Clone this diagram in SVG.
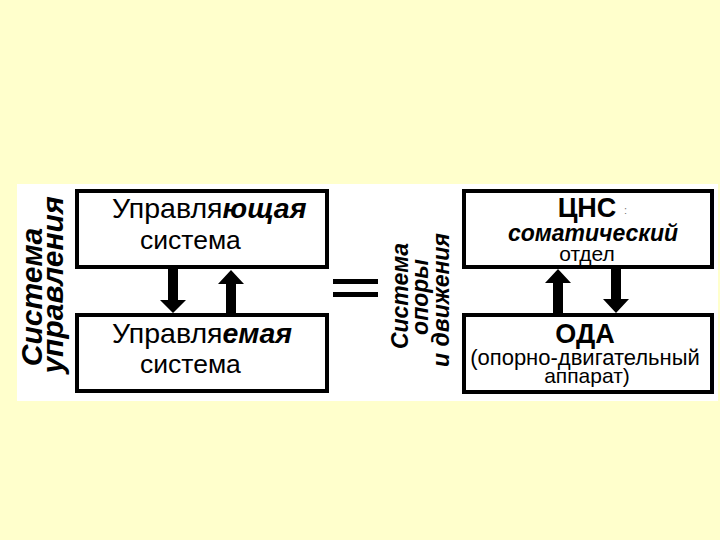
<svg xmlns="http://www.w3.org/2000/svg" width="720" height="540" viewBox="0 0 720 540">
<style>
text{font-family:"Liberation Sans",Arial,sans-serif;fill:#000}
.box{fill:#fff;stroke:#000;stroke-width:4}
.bi{font-weight:bold;font-style:italic}
.b{font-weight:bold}
.arr{fill:#000}
</style>
<rect width="720" height="540" fill="#FFFFCC"/>
<rect x="17" y="184" width="701" height="217" fill="#fff"/>
<g id="label-sys-upr">
<text class="bi" font-size="30" text-anchor="middle" transform="translate(42,297) rotate(-90)">Система</text>
<text class="bi" font-size="30" text-anchor="middle" transform="translate(63,285) rotate(-90)">управления</text>
</g>
<g id="node-upr-top">
<rect class="box" x="77" y="191" width="250" height="76"/>
<text font-size="28.5" x="112" y="218">Управля<tspan class="bi">ющая</tspan></text>
<text font-size="26.5" x="140" y="249">система</text>
</g>
<g id="node-upr-bottom">
<rect class="box" x="77" y="315" width="250" height="76"/>
<text font-size="28.5" x="112" y="343">Управля<tspan class="bi">емая</tspan></text>
<text font-size="26.5" x="140" y="373">система</text>
</g>
<g id="equals">
<rect x="333" y="279" width="45" height="5" fill="#000"/>
<rect x="333" y="292" width="45" height="5" fill="#000"/>
</g>
<g id="label-sys-oda">
<text class="bi" font-size="23" text-anchor="middle" transform="translate(408,296) rotate(-90)">Система</text>
<text class="bi" font-size="23" text-anchor="middle" transform="translate(428,297) rotate(-90)">опоры</text>
<text class="bi" font-size="23" text-anchor="middle" transform="translate(449,300) rotate(-90)">и движения</text>
</g>
<g id="node-cns">
<rect class="box" x="464" y="191" width="248" height="76"/>
<text class="b" font-size="27" x="587" y="217" text-anchor="middle">ЦНС</text>
<text font-size="11" x="624" y="214" style="fill:#777">:</text>
<text class="bi" font-size="23" x="593" y="241" text-anchor="middle">соматический</text>
<text font-size="21" x="587" y="261" text-anchor="middle">отдел</text>
</g>
<g id="node-oda">
<rect class="box" x="464" y="315" width="248" height="77"/>
<text class="b" font-size="27" x="585" y="343" text-anchor="middle">ОДА</text>
<text font-size="22" x="585" y="365" text-anchor="middle">(опорно-двигательный</text>
<text font-size="21" x="587" y="383" text-anchor="middle">аппарат)</text>
</g>
<g id="connectors">
<polygon class="arr" points="168,269 178,269 178,300 186,300 173,313 160,300 168,300"/>
<polygon class="arr" points="231,270 244,284 236,284 236,314 226,314 226,284 218,284"/>
<polygon class="arr" points="558,269 571,283 563,283 563,314 553,314 553,283 545,283"/>
<polygon class="arr" points="611,269 621,269 621,299 629,299 616,313 603,299 611,299"/>
</g>
</svg>
